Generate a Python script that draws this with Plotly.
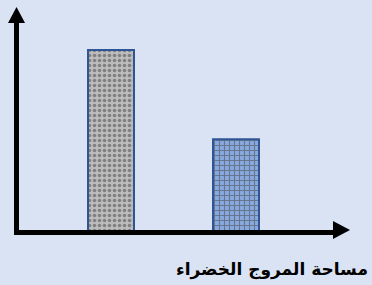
import plotly.graph_objects as go

categories = [0, 1]
values = [2.0, 1.02]
bar_colors = ["#bcbcbc", "#88a9de"]
pattern_fg = ["#6a6a6a", "#34569a"]
pattern_shapes = [".", "+"]
xlabel = "مساحة المروج الخضراء"

W, H = 372, 285
L, R, T, B = 17, 22, 8, 53
pw, ph = W - L - R, H - T - B

def px(x):
    return (x - L) / pw

def py(y):
    return (H - B - y) / ph

fig = go.Figure()
fig.add_trace(go.Bar(
    x=categories, y=values, width=0.368,
    marker=dict(
        color=bar_colors,
        line=dict(color="#2f5597", width=2),
        pattern=dict(shape=pattern_shapes, fgcolor=pattern_fg, size=5,
                     solidity=0.4, fillmode="overlay"),
    ),
))

shapes = [
    dict(type="line", xref="paper", yref="paper", x0=px(16.5), x1=px(16.5),
         y0=py(235), y1=py(20), line=dict(color="black", width=5)),
    dict(type="path", xref="paper", yref="paper",
         path=f"M {px(8)} {py(23)} L {px(25)} {py(23)} L {px(16.5)} {py(7)} Z",
         fillcolor="black", line=dict(color="black", width=0)),
    dict(type="line", xref="paper", yref="paper", x0=px(14), x1=px(336),
         y0=py(232.5), y1=py(232.5), line=dict(color="black", width=5)),
    dict(type="path", xref="paper", yref="paper",
         path=f"M {px(333)} {py(221)} L {px(333)} {py(239)} L {px(350)} {py(230)} Z",
         fillcolor="black", line=dict(color="black", width=0)),
]

fig.update_layout(
    width=W, height=H,
    margin=dict(l=L, r=R, t=T, b=B),
    paper_bgcolor="#dae3f3", plot_bgcolor="#dae3f3",
    showlegend=False,
    xaxis=dict(range=[-0.752, -0.752 + pw / 125], visible=False, fixedrange=True),
    yaxis=dict(range=[0, ph / 91], visible=False, fixedrange=True),
    shapes=shapes,
    annotations=[dict(text=f"<b>{xlabel}</b>", xref="paper", yref="paper",
                      x=px(370), y=py(269), xanchor="right", yanchor="middle",
                      showarrow=False,
                      font=dict(family="DejaVu Sans", size=17, color="black"))],
)

fig.write_html("out.html", config={"displayModeBar": False},
               post_script="document.body.style.margin='0';document.body.style.overflow='hidden';")
